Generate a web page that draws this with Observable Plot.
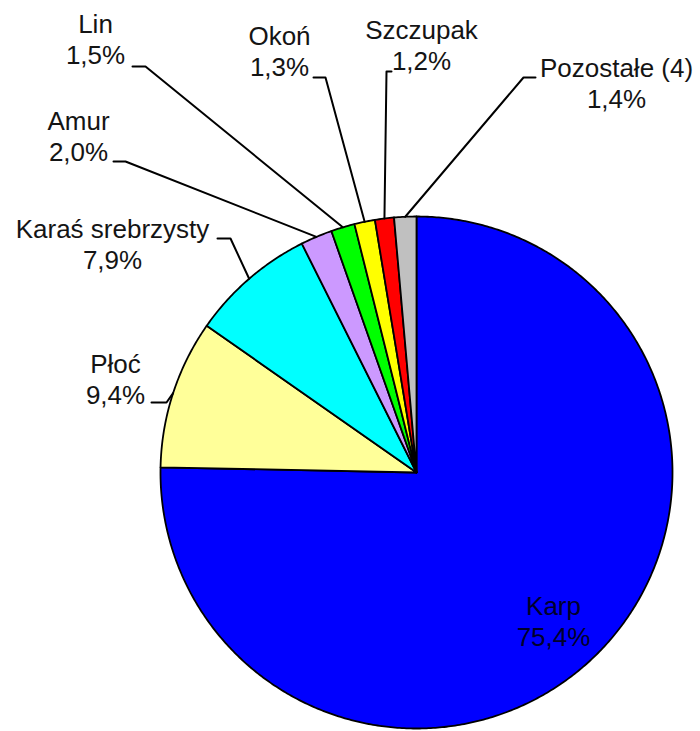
<!DOCTYPE html>
<html>
<head>
<meta charset="utf-8">
<script src="https://cdn.jsdelivr.net/npm/d3@7"></script>
<script src="https://cdn.jsdelivr.net/npm/@observablehq/plot@0.6"></script>
<style>
  html, body { margin: 0; padding: 0; background: #fff; }
  #chart svg { display: block; }
</style>
</head>
<body>
<div id="chart"></div>
<script>
// ---- data ----
const categories = ["Karp", "Płoć", "Karaś srebrzysty", "Amur", "Lin", "Okoń", "Szczupak", "Pozostałe (4)"];
const shares = [75.4, 9.4, 7.9, 2.0, 1.5, 1.3, 1.2, 1.4];

// ---- styles ----
const sliceColors = ["#0000FF", "#FFFF99", "#00FFFF", "#CC99FF", "#00FF00", "#FFFF00", "#FF0000", "#C0C0C0"];

// ---- layout ----
const W = 700, H = 731;
const cx = 416, cy = 472, R = 256;
// label anchor: centre x, baseline of last line; leader: points from label towards slice
const labelLayout = [
  {x: 553, y: 645, leader: null},
  {x: 115, y: 403, leader: [[151, 402], [166, 402]]},
  {x: 112, y: 268, leader: [[217, 238], [230, 238]]},
  {x: 78,  y: 160, leader: [[113, 161], [125, 161]]},
  {x: 95,  y: 63,  leader: [[132, 66], [145, 66]]},
  {x: 279, y: 75,  leader: [[313, 77], [325, 77]]},
  {x: 421, y: 69,  leader: [[391, 71], [386, 71]]},
  {x: 616, y: 107, leader: [[535, 77], [523, 77]]}
];

const arcs = d3.pie().sort(null).value(d => d)(shares);
const pt = (a, r) => [cx + r * Math.sin(a), cy - r * Math.cos(a)];

// wedge polygons
const wedgePts = [];
arcs.forEach((a, i) => {
  const c = pt(0, 0);
  wedgePts.push({x: c[0], y: c[1], k: i});
  const n = Math.max(2, Math.ceil((a.endAngle - a.startAngle) / (Math.PI / 360)));
  for (let j = 0; j <= n; j++) {
    const ang = a.startAngle + (a.endAngle - a.startAngle) * j / n;
    const p = pt(ang, R);
    wedgePts.push({x: p[0], y: p[1], k: i});
  }
  wedgePts.push({x: c[0], y: c[1], k: i});
});

// leader lines
const leaderPts = [];
arcs.forEach((a, i) => {
  const L = labelLayout[i].leader;
  if (!L) return;
  L.forEach(p => leaderPts.push({x: p[0], y: p[1], k: i}));
  const mid = (a.startAngle + a.endAngle) / 2;
  const e = pt(mid, R);
  leaderPts.push({x: e[0], y: e[1], k: i});
});

const labels = categories.map((c, i) => ({
  text: `${c}\n${shares[i].toFixed(1).replace(".", ",")}%`,
  x: labelLayout[i].x,
  y: labelLayout[i].y,
  inside: i === 0
}));

const chart = Plot.plot({
  width: W,
  height: H,
  margin: 0,
  x: {domain: [0, W], range: [0, W], axis: null},
  y: {domain: [0, H], range: [0, H], axis: null},
  color: {type: "identity"},
  style: {background: "#fff", fontFamily: "'Liberation Sans', Arial, sans-serif"},
  marks: [
    Plot.line(wedgePts, {
      x: "x", y: "y", z: "k",
      fill: d => sliceColors[d.k],
      stroke: "#000",
      strokeWidth: 1.8,
      strokeLinejoin: "round",
      curve: "linear"
    }),
    Plot.line(leaderPts, {
      x: "x", y: "y", z: "k",
      stroke: "#000",
      strokeWidth: 2,
      curve: "linear"
    }),
    Plot.text(labels, {
      x: "x", y: "y", text: "text",
      lineAnchor: "bottom",
      lineHeight: 1.17,
      fontSize: 26,
      textAnchor: "middle",
      fill: d => d.inside ? "#00002a" : "#141414"
    })
  ]
});

document.getElementById("chart").appendChild(chart);
</script>
</body>
</html>
